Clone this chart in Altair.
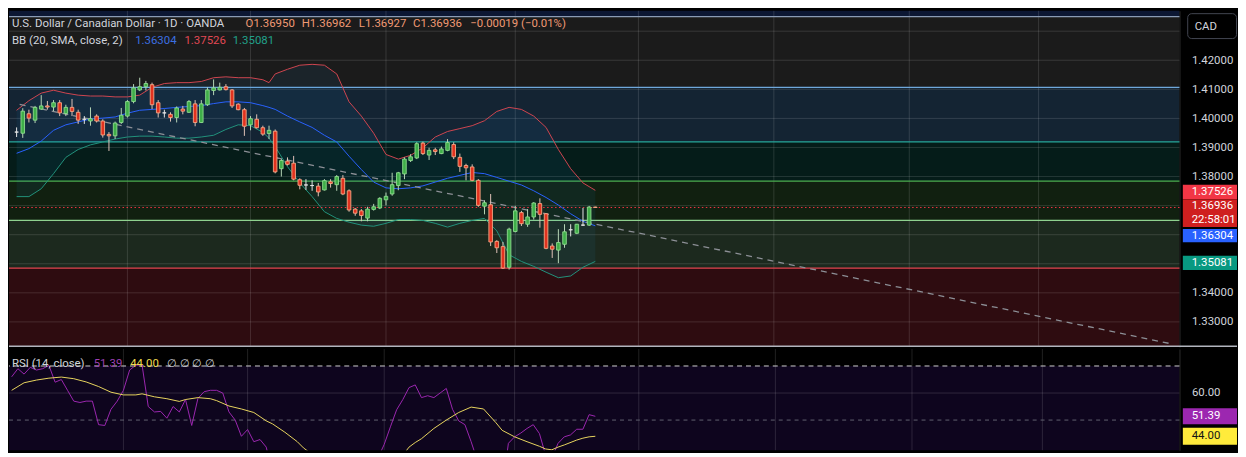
import altair as alt
import pandas as pd

# ---------------- data ----------------
opens = [1.3953, 1.3949, 1.4016, 1.3994, 1.4032, 1.4043, 1.4039, 1.4054, 1.4017, 1.4038,
         1.4021, 1.3997, 1.3991, 1.4008, 1.3991, 1.3945, 1.3940, 1.3986, 1.4008, 1.4058,
         1.4098, 1.4109, 1.4116, 1.4054, 1.4019, 1.4014, 1.4003, 1.4032, 1.4021, 1.4050,
         1.3986, 1.4047, 1.4096, 1.4098, 1.4109, 1.4098, 1.4049, 1.4030, 1.3978, 1.3997,
         1.3968, 1.3948, 1.3956, 1.3827, 1.3853, 1.3846, 1.3789, 1.3771, 1.3769, 1.3767,
         1.3754, 1.3782, 1.3772, 1.3794, 1.3751, 1.3688, 1.3682, 1.3657, 1.3687, 1.3692,
         1.3720, 1.3740, 1.3769, 1.3809, 1.3855, 1.3864, 1.3915, 1.3874, 1.3892, 1.3879,
         1.3890, 1.3910, 1.3866, 1.3838, 1.3833, 1.3787, 1.3698, 1.3703, 1.3577, 1.3559,
         1.3488, 1.3611, 1.3676, 1.3636, 1.3661, 1.3707, 1.3672, 1.3561, 1.3547, 1.3567,
         1.3617, 1.3605, 1.3633, 1.3633, 1.36950]
highs = [1.3969, 1.4035, 1.4030, 1.4043, 1.4080, 1.4060, 1.4063, 1.4063, 1.4047, 1.4067,
         1.4030, 1.4008, 1.4038, 1.4014, 1.3997, 1.3953, 1.3989, 1.4036, 1.4063, 1.4118,
         1.4140, 1.4129, 1.4123, 1.4063, 1.4030, 1.4021, 1.4041, 1.4043, 1.4063, 1.4063,
         1.4063, 1.4107, 1.4134, 1.4123, 1.4118, 1.4101, 1.4052, 1.4036, 1.4008, 1.4014,
         1.3975, 1.3975, 1.3962, 1.3860, 1.3866, 1.3871, 1.3794, 1.3791, 1.3787, 1.3778,
         1.3791, 1.3791, 1.3805, 1.3805, 1.3756, 1.3692, 1.3688, 1.3696, 1.3706, 1.3729,
         1.3745, 1.3813, 1.3816, 1.3866, 1.3877, 1.3918, 1.3920, 1.3899, 1.3899, 1.3903,
         1.3929, 1.3918, 1.3879, 1.3844, 1.3842, 1.3791, 1.3718, 1.3740, 1.3581, 1.3575,
         1.3624, 1.3699, 1.3682, 1.3688, 1.3712, 1.3725, 1.3674, 1.3570, 1.3619, 1.3636,
         1.3636, 1.3637, 1.3692, 1.3699, 1.36962]
lows = [1.3936, 1.3933, 1.3986, 1.3984, 1.4030, 1.4030, 1.4025, 1.4008, 1.4008, 1.4008,
        1.3981, 1.3981, 1.3975, 1.3986, 1.3934, 1.3888, 1.3929, 1.3981, 1.4003, 1.4052,
        1.4094, 1.4096, 1.4032, 1.4003, 1.4003, 1.3989, 1.3986, 1.4014, 1.4019, 1.3973,
        1.3984, 1.4043, 1.4080, 1.4096, 1.4096, 1.4036, 1.4028, 1.3940, 1.3959, 1.3965,
        1.3940, 1.3929, 1.3811, 1.3800, 1.3838, 1.3787, 1.3756, 1.3754, 1.3751, 1.3732,
        1.3752, 1.3762, 1.3751, 1.3736, 1.3679, 1.3665, 1.3646, 1.3646, 1.3683, 1.3688,
        1.3701, 1.3734, 1.3753, 1.3791, 1.3850, 1.3860, 1.3874, 1.3857, 1.3874, 1.3877,
        1.3887, 1.3860, 1.3816, 1.3787, 1.3784, 1.3696, 1.3670, 1.3561, 1.3537, 1.3482,
        1.3480, 1.3608, 1.3630, 1.3627, 1.3652, 1.3624, 1.3550, 1.3520, 1.3502, 1.3555,
        1.3594, 1.3602, 1.3630, 1.3630, 1.36927]
closes = [1.3953, 1.4025, 1.4001, 1.4038, 1.4043, 1.4039, 1.4054, 1.4019, 1.4038, 1.4024,
          1.3994, 1.3997, 1.3999, 1.3991, 1.3943, 1.3940, 1.3984, 1.4011, 1.4058, 1.4105,
          1.4109, 1.4120, 1.4047, 1.4019, 1.4019, 1.4003, 1.4036, 1.4025, 1.4058, 1.3986,
          1.4050, 1.4098, 1.4105, 1.4107, 1.4099, 1.4043, 1.4030, 1.3973, 1.3999, 1.3968,
          1.3946, 1.3959, 1.3816, 1.3855, 1.3842, 1.3791, 1.3770, 1.3771, 1.3769, 1.3747,
          1.3786, 1.3776, 1.3800, 1.3740, 1.3685, 1.3674, 1.3666, 1.3688, 1.3696, 1.3725,
          1.3732, 1.3772, 1.3813, 1.3860, 1.3868, 1.3913, 1.3879, 1.3890, 1.3886, 1.3895,
          1.3917, 1.3868, 1.3835, 1.3830, 1.3787, 1.3701, 1.3710, 1.3575, 1.3555, 1.3485,
          1.3619, 1.3682, 1.3638, 1.3661, 1.3709, 1.3670, 1.3553, 1.3550, 1.3573, 1.3610,
          1.3617, 1.3636, 1.3633, 1.3695, 1.36936]

bb_idx = [0, 2, 4, 6, 8, 10, 12, 14, 16, 18, 20, 22, 24, 26, 28, 30, 32, 34, 36, 38, 40,
          41, 42, 44, 46, 48, 50, 52, 54, 56, 58, 60, 62, 64, 66, 68, 70, 72, 74, 76, 78,
          80, 82, 84, 86, 88, 90, 92, 94]
bb_upper = [1.4028, 1.4061, 1.4087, 1.4097, 1.4087, 1.4080, 1.4077, 1.4077, 1.4074, 1.4074,
            1.4080, 1.4107, 1.4120, 1.4123, 1.4123, 1.4127, 1.4140, 1.4143, 1.4140, 1.4140,
            1.4133, 1.4123, 1.4153, 1.4169, 1.4183, 1.4186, 1.4183, 1.4153, 1.4057, 1.4008,
            1.3949, 1.3876, 1.3860, 1.3873, 1.3899, 1.3936, 1.3955, 1.3965, 1.3975, 1.3992,
            1.4024, 1.4038, 1.4031, 1.4008, 1.3969, 1.3893, 1.3827, 1.3778, 1.37526]
bb_basis = [1.3880, 1.3896, 1.3922, 1.3959, 1.3978, 1.3988, 1.3998, 1.4001, 1.4005, 1.4018,
            1.4028, 1.4031, 1.4034, 1.4038, 1.4041, 1.4044, 1.4051, 1.4057, 1.4057, 1.4054,
            1.4044, 1.4038, 1.4031, 1.4008, 1.3988, 1.3969, 1.3942, 1.3919, 1.3870, 1.3824,
            1.3781, 1.3761, 1.3758, 1.3761, 1.3768, 1.3781, 1.3794, 1.3804, 1.3814, 1.3810,
            1.3797, 1.3784, 1.3771, 1.3751, 1.3728, 1.3702, 1.3672, 1.3646, 1.36304]
bb_lower = [1.3731, 1.3731, 1.3758, 1.3810, 1.3866, 1.3893, 1.3909, 1.3919, 1.3929, 1.3936,
            1.3939, 1.3939, 1.3936, 1.3932, 1.3932, 1.3936, 1.3942, 1.3962, 1.3978, 1.3975,
            1.3952, 1.3932, 1.3903, 1.3834, 1.3778, 1.3731, 1.3679, 1.3656, 1.3643, 1.3633,
            1.3629, 1.3639, 1.3652, 1.3652, 1.3649, 1.3639, 1.3626, 1.3639, 1.3649, 1.3656,
            1.3613, 1.3531, 1.3508, 1.3491, 1.3471, 1.3452, 1.3458, 1.3488, 1.35081]

rsi_values = [66, 69, 67, 69.5, 68.5, 69, 70.2, 64, 65, 61,
              57, 56.5, 57, 57, 48.3, 48, 54, 57, 61, 68.5,
              70.3, 70.4, 55, 53, 53.2, 50.7, 55, 53, 57.6, 48,
              58, 60.5, 61, 61, 60, 53, 50, 44, 46.5, 42,
              42.8, 40, 30, 33, 32, 28, 26, 27, 27, 25,
              30, 29, 33, 28, 23, 22, 21, 26, 27, 36,
              41, 47.5, 53.8, 57.6, 62, 63, 58.3, 59, 58.3, 60,
              61.7, 54, 49.7, 48.3, 42, 35, 36, 28, 27, 24,
              41.4, 43.8, 45.2, 46.9, 48.3, 45, 37, 36, 41.4, 43.8,
              44.5, 46.6, 46.6, 52, 51.39]
rsi_ma_idx = [0, 2, 4, 6, 8, 10, 12, 14, 16, 18, 20, 21, 23, 25, 27, 28, 30, 32, 33, 35,
              37, 39, 41, 42, 44, 46, 47, 48, 50, 52, 54, 56, 58, 60, 62, 63, 64, 65, 66, 68,
              70, 72, 74, 76, 78, 79, 81, 83, 85, 86, 87, 88, 89, 91, 92, 93, 94]
rsi_ma_values = [61, 63.8, 64.8, 65.5, 65.9, 65.3, 64.1, 62.4, 60.3, 59.3,
                 59.3, 59.7, 58.6, 57.9, 56.9, 57.6, 58.3, 57.9, 57.2, 55.2,
                 54.1, 52.8, 49.7, 48.6, 45.5, 42, 39.7, 38, 35, 33,
                 31, 29, 28, 30, 34, 37, 40, 41.7, 43.1, 46.9,
                 50, 52.8, 54.8, 54.1, 49, 46.2, 43.8, 42, 40.3, 39.3,
                 39, 40, 40.8, 42.6, 43.3, 43.8, 44.0]

price_axis_labels = [1.42, 1.41, 1.40, 1.39, 1.38, 1.34, 1.33]
price_grid = [1.43, 1.42, 1.41, 1.40, 1.39, 1.38, 1.37, 1.36, 1.35, 1.34, 1.33]
month_starts = [18, 38, 60, 81, 101, 123, 145, 166]

zone_top = [1.4420, 1.4350, 1.4107, 1.3919, 1.3784, 1.3649, 1.3485]
zone_bottom = [1.4350, 1.4107, 1.3919, 1.3784, 1.3649, 1.3485, 1.3100]
zone_fill = ["#0c1733", "#1b1b1b", "#142433", "#051c19", "#112010", "#1c291e", "#2e0c10"]
level_prices = [1.4350, 1.4107, 1.3919, 1.3784, 1.3649, 1.3485]
level_colors = ["#8a9bb5", "#6fa8dc", "#26a69a", "#4caf50", "#8fd18f", "#e0454f"]

trend_idx = [0.5, 187.7]
trend_price = [1.4048, 1.3224]

rsi_band = [70, 20]
rsi_axis_labels = [60]

symbol_text = "U.S. Dollar / Canadian Dollar \u00b7 1D \u00b7 OANDA"
change_text = "\u22120.00019 (\u22120.01%)"
countdown_text = "22:58:01"
bb_title = "BB (20, SMA, close, 2)"
rsi_title = "RSI (14, close)"
rsi_na = "\u2205  \u2205  \u2205  \u2205"
currency = "CAD"

# ---------------- layout / style ----------------
SX = 1238 / 1246
SY = 441 / 457
W, H1, H2 = 1180, 339, 102
X_DOM = [-0.43, 188.08]
P_DOM = [1.32135, 1.43702]
R_DOM = [38.85, 76.27]
FONT = "Roboto"
FS = 11.5
GRAY = "#d1d4dc"


def px(x):
    return round(x * SX, 1)


def py(y):
    return round(y * SY, 1)


def pyr(y):
    return round(y * SY - H1, 1)


xs = alt.Scale(domain=X_DOM, nice=False, zero=False)
ys = alt.Scale(domain=P_DOM, nice=False, zero=False)
rs = alt.Scale(domain=R_DOM, nice=False, zero=False)


def make_axis(vals, fmt):
    return alt.Axis(orient="right", values=vals, format=fmt, grid=False, ticks=False,
                    tickSize=0, domain=True, domainColor="#2c2c2c", labelColor=GRAY,
                    labelFont=FONT, labelFontSize=FS, labelPadding=12, labelAlign="left",
                    labelOverlap=False, labelFlush=False,
                    minExtent=1238 - W, maxExtent=1238 - W, title=None)


yax = make_axis(price_axis_labels, ".5f")
rax = make_axis(rsi_axis_labels, ".2f")
XI = alt.X("i:Q", scale=xs, axis=None)


def text_layer(text, x, y, color, size=FS):
    return alt.Chart(pd.DataFrame({"t": [text]})).mark_text(
        align="left", baseline="middle", font=FONT, fontSize=size, color=color
    ).encode(x=alt.value(x), y=alt.value(y), text="t:N")


TAG_X = (px(1191) + 1238) / 2
TAG_W = 1238 - px(1191)
TXT_X = px(1200)


def tag_layers(value, scale, axis, fill, tcolor, dy, h, text, extra=None):
    df = pd.DataFrame({"v": [value], "t": [text]})
    box = alt.Chart(df).mark_tick(orient="horizontal", thickness=h, color=fill, opacity=1,
                                  yOffset=dy).encode(
        x=alt.value(TAG_X), y=alt.Y("v:Q", scale=scale, axis=axis), size=alt.value(TAG_W))
    out = [box]
    if extra is None:
        out.append(alt.Chart(df).mark_text(align="left", baseline="middle", font=FONT,
                                           fontSize=FS, color=tcolor, yOffset=dy).encode(
            x=alt.value(TXT_X), y=alt.Y("v:Q", scale=scale, axis=axis), text="t:N"))
    else:
        for t, off in extra:
            d2 = pd.DataFrame({"v": [value], "t": [t]})
            out.append(alt.Chart(d2).mark_text(align="left", baseline="middle", font=FONT,
                                               fontSize=FS, color=tcolor, yOffset=off).encode(
                x=alt.value(TXT_X), y=alt.Y("v:Q", scale=scale, axis=axis), text="t:N"))
    return out


# ---------------- price panel ----------------
n = len(opens)
cd = pd.DataFrame({"i": list(range(n)), "o": opens, "h": highs, "l": lows, "c": closes})
cd["dir"] = ["flat" if abs(c - o) < 1e-9 else ("up" if c > o else "down")
             for o, c in zip(opens, closes)]
bb = pd.DataFrame({"i": bb_idx, "u": bb_upper, "m": bb_basis, "lo": bb_lower})

zones = alt.Chart(pd.DataFrame({"top": zone_top, "bot": zone_bottom, "f": zone_fill})).mark_rect(
    clip=True).encode(x=alt.value(0), x2=alt.value(W),
                      y=alt.Y("top:Q", scale=ys, axis=yax), y2="bot:Q",
                      color=alt.Color("f:N", scale=None))
hgrid = alt.Chart(pd.DataFrame({"p": price_grid})).mark_rule(
    color="#ffffff", opacity=0.13, strokeWidth=1).encode(y=alt.Y("p:Q", scale=ys, axis=yax))
vgrid_p = alt.Chart(pd.DataFrame({"i": month_starts})).mark_rule(
    color="#ffffff", opacity=0.13, strokeWidth=1).encode(x=XI)
levels = alt.Chart(pd.DataFrame({"p": level_prices, "c": level_colors})).mark_rule(
    strokeWidth=1.2).encode(y=alt.Y("p:Q", scale=ys, axis=yax), color=alt.Color("c:N", scale=None))
bbfill = alt.Chart(bb).mark_area(color="#2196f3", opacity=0.07, clip=True).encode(
    x=XI, y=alt.Y("u:Q", scale=ys, axis=yax), y2="lo:Q")
bbu = alt.Chart(bb).mark_line(color="#d04650", strokeWidth=1, clip=True).encode(
    x=XI, y=alt.Y("u:Q", scale=ys, axis=yax))
bbm = alt.Chart(bb).mark_line(color="#2962ff", strokeWidth=1, clip=True).encode(
    x=XI, y=alt.Y("m:Q", scale=ys, axis=yax))
bbl = alt.Chart(bb).mark_line(color="#22937c", strokeWidth=1, clip=True).encode(
    x=XI, y=alt.Y("lo:Q", scale=ys, axis=yax))
trend = alt.Chart(pd.DataFrame({"i": trend_idx, "p": trend_price})).mark_line(
    color="#8c8f96", strokeWidth=1.3, strokeDash=[6, 5], clip=True).encode(
    x=XI, y=alt.Y("p:Q", scale=ys, axis=yax))
curline = alt.Chart(pd.DataFrame({"p": [closes[-1]]})).mark_rule(
    color="#f23645", strokeWidth=1, strokeDash=[1.5, 2.5]).encode(
    y=alt.Y("p:Q", scale=ys, axis=yax))

dir_dom = ["up", "down", "flat"]
wicks = alt.Chart(cd).mark_rule(strokeWidth=1).encode(
    x=XI, y=alt.Y("l:Q", scale=ys, axis=yax), y2="h:Q",
    color=alt.Color("dir:N", scale=alt.Scale(domain=dir_dom,
                                             range=["#b9d8b9", "#e2c3b9", "#e6e6e6"]), legend=None))
bodies = alt.Chart(cd).mark_bar(width=3.6, strokeWidth=0.9).encode(
    x=XI, y=alt.Y("o:Q", scale=ys, axis=yax), y2="c:Q",
    fill=alt.Fill("dir:N", scale=alt.Scale(domain=dir_dom,
                                           range=["#3fae49", "#e2321f", "#e6e6e6"]), legend=None),
    stroke=alt.Stroke("dir:N", scale=alt.Scale(domain=dir_dom,
                                               range=["#8fdc8f", "#f7a784", "#e6e6e6"]), legend=None))

peach = "#f09a74"
headers = [
    text_layer(symbol_text, px(3), py(14), GRAY),
    text_layer(f"O{opens[-1]:.5f}", px(240), py(14), peach),
    text_layer(f"H{highs[-1]:.5f}", px(297), py(14), peach),
    text_layer(f"L{lows[-1]:.5f}", px(355), py(14), peach),
    text_layer(f"C{closes[-1]:.5f}", px(410), py(14), peach),
    text_layer(change_text, px(468), py(14), peach),
    text_layer(bb_title, px(3), py(31.5), GRAY),
    text_layer(f"{bb_basis[-1]:.5f}", px(128), py(31.5), "#3b6fe0"),
    text_layer(f"{bb_upper[-1]:.5f}", px(178), py(31.5), "#e04854"),
    text_layer(f"{bb_lower[-1]:.5f}", px(227), py(31.5), "#21a18a"),
]

ptags = []
ptags += tag_layers(bb_upper[-1], ys, yax, "#f23645", "#ffffff", 1.5, 14.5, f"{bb_upper[-1]:.5f}")
ptags += tag_layers(closes[-1], ys, yax, "#cf1f1f", "#ffffff", 5.8, 28, "",
                    extra=[(f"{closes[-1]:.5f}", -1.2), (countdown_text, 13.0)])
ptags += tag_layers(bb_basis[-1], ys, yax, "#2962ff", "#ffffff", 9.9, 13.5, f"{bb_basis[-1]:.5f}")
ptags += tag_layers(bb_lower[-1], ys, yax, "#089981", "#ffffff", 1.5, 14.5, f"{bb_lower[-1]:.5f}")

one = pd.DataFrame({"t": [currency]})
cadbox = alt.Chart(one).mark_rect(fill="#000000", stroke="#434651", strokeWidth=1,
                                  cornerRadius=4).encode(
    x=alt.value(px(1196)), x2=alt.value(1237.5), y=alt.value(py(3)), y2=alt.value(py(29)))
cadtext = alt.Chart(one).mark_text(align="left", baseline="middle", font=FONT, fontSize=FS,
                                   color=GRAY).encode(
    x=alt.value(px(1203)), y=alt.value(py(16.5)), text="t:N")
separator = alt.Chart(one).mark_rule(color="#b2b5be", strokeWidth=1.5).encode(
    x=alt.value(0), x2=alt.value(1238), y=alt.value(H1 - 0.75))

price = alt.layer(zones, hgrid, vgrid_p, levels, bbfill, bbu, bbm, bbl, trend, curline,
                  wicks, bodies, *headers, *ptags, cadbox, cadtext, separator).properties(
    width=W, height=H1)

# ---------------- RSI panel ----------------
rd = pd.DataFrame({"i": list(range(len(rsi_values))), "r": rsi_values})
rmd = pd.DataFrame({"i": rsi_ma_idx, "r": rsi_ma_values})

rband = alt.Chart(pd.DataFrame({"a": [rsi_band[0]], "b": [rsi_band[1]]})).mark_rect(
    clip=True, color="#0e051e").encode(x=alt.value(0), x2=alt.value(W),
                                        y=alt.Y("a:Q", scale=rs, axis=rax), y2="b:Q")
r60 = alt.Chart(pd.DataFrame({"v": [60]})).mark_rule(color="#ffffff", opacity=0.14).encode(
    y=alt.Y("v:Q", scale=rs, axis=rax))
vgrid_r = alt.Chart(pd.DataFrame({"i": month_starts})).mark_rule(
    color="#ffffff", opacity=0.13, strokeWidth=1).encode(x=XI)
r70 = alt.Chart(pd.DataFrame({"v": [70]})).mark_rule(color="#d0d0d0", strokeDash=[5, 4]).encode(
    y=alt.Y("v:Q", scale=rs, axis=rax))
r50 = alt.Chart(pd.DataFrame({"v": [50]})).mark_rule(color="#62626f", strokeDash=[4, 4]).encode(
    y=alt.Y("v:Q", scale=rs, axis=rax))
rline = alt.Chart(rd).mark_line(color="#9c27b0", strokeWidth=1, clip=True).encode(
    x=XI, y=alt.Y("r:Q", scale=rs, axis=rax))
rma = alt.Chart(rmd).mark_line(color="#e9d65f", strokeWidth=1, clip=True).encode(
    x=XI, y=alt.Y("r:Q", scale=rs, axis=rax))

rlegend = [
    text_layer(rsi_title, px(3), pyr(367), GRAY),
    text_layer(f"{rsi_values[-1]:.2f}", px(86), pyr(367), "#9b3fb2"),
    text_layer(f"{rsi_ma_values[-1]:.2f}", px(123), pyr(367), "#f0dc50"),
    text_layer(rsi_na, px(160), pyr(367), GRAY),
]
rtags = []
rtags += tag_layers(rsi_values[-1], rs, rax, "#9c27b0", "#ffffff", 0, 16, f"{rsi_values[-1]:.2f}")
rtags += tag_layers(rsi_ma_values[-1], rs, rax, "#ffeb3b", "#131313", 0, 17,
                    f"{rsi_ma_values[-1]:.2f}")

rsi = alt.layer(rband, r60, vgrid_r, r70, r50, rline, rma, *rlegend, *rtags).properties(
    width=W, height=H2)

chart = alt.vconcat(price, rsi, spacing=0).properties(
    background="#000000", padding=0
).configure_view(strokeWidth=0)

chart.save("out.html", embed_options={"renderer": "svg", "actions": False})
